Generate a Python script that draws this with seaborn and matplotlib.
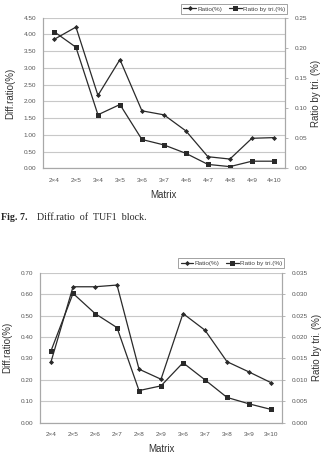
import numpy as np
import pandas as pd
import seaborn as sns
import matplotlib
matplotlib.use('Agg')
import matplotlib.pyplot as plt
import matplotlib.ticker as mtick
from matplotlib.lines import Line2D

# top chart (TUF1 block)
top_matrix = ['2×4', '2×5', '3×4', '3×5', '3×6', '3×7', '4×6', '4×7', '4×8', '4×9', '4×10']
top_ratio = [3.85, 4.22, 2.18, 3.25, 1.72, 1.60, 1.12, 0.35, 0.28, 0.90, 0.92]
top_ratio_tri = [0.227, 0.201, 0.089, 0.106, 0.048, 0.039, 0.025, 0.0067, 0.003, 0.012, 0.012]

# bottom chart
bot_matrix = ['2×4', '2×5', '2×6', '2×7', '2×8', '2×9', '3×6', '3×7', '3×8', '3×9', '3×10']
bot_ratio = [0.285, 0.635, 0.635, 0.643, 0.250, 0.203, 0.510, 0.432, 0.285, 0.237, 0.187]
bot_ratio_tri = [0.0168, 0.0302, 0.0255, 0.0222, 0.0075, 0.0086, 0.0140, 0.0100, 0.0059, 0.0044, 0.0031]

sns.set_style("white")
plt.rcParams['font.family'] = ['Liberation Sans', 'DejaVu Sans']

LINE = '#2a2a2a'
GRID = '#c8c8c8'
TICK_FS = 4.6
LABEL_FS = 7


def draw_panel(fig, rect, matrix, ratio, ratio_tri, lmax, lstep, rmax, rstep, rfmt, legend_y):
    ax = fig.add_axes(rect)
    ax2 = ax.twinx()
    df = pd.DataFrame({'Matrix': matrix, 'Ratio': ratio, 'Tri': ratio_tri})
    sns.lineplot(data=df, x='Matrix', y='Ratio', ax=ax, color=LINE, lw=0.9,
                 marker='D', markersize=2.6, markeredgewidth=0, sort=False)
    sns.lineplot(data=df, x='Matrix', y='Tri', ax=ax2, color=LINE, lw=0.9,
                 marker='s', markersize=3.6, markeredgewidth=0, sort=False)

    n = len(matrix)
    ax.set_xlim(-0.5, n - 0.5)
    ax.set_ylim(0, lmax)
    ax2.set_ylim(0, rmax)
    ax.set_yticks(np.arange(0, lmax + lstep / 2, lstep))
    ax2.set_yticks(np.arange(0, rmax + rstep / 2, rstep))
    ax.yaxis.set_major_formatter(mtick.FormatStrFormatter('%.2f'))
    ax2.yaxis.set_major_formatter(mtick.FormatStrFormatter(rfmt))
    ax.grid(axis='y', color=GRID, lw=0.8)
    ax.set_axisbelow(True)

    ax.set_xticks(range(n))
    ax.set_xticklabels(matrix)
    ax.set_xticks(np.arange(0.5, n - 0.5, 1), minor=True)
    ax.tick_params(axis='x', which='major', length=0, labelsize=TICK_FS, pad=7, colors='#555555')
    ax.tick_params(axis='x', which='minor', length=2, width=0.5, color='#999999', direction='in')
    ax.tick_params(axis='y', length=0, labelsize=TICK_FS, pad=5, colors='#555555')
    ax2.tick_params(axis='y', length=2, width=0.5, color='#999999', labelsize=TICK_FS, pad=5,
                    labelcolor='#555555')

    for a in (ax, ax2):
        for s in a.spines.values():
            s.set_color('#a8a8a8')
            s.set_linewidth(0.8)
        a.spines['top'].set_visible(False)

    ax.set_xlabel('Matrix', fontsize=LABEL_FS, color='#333333', labelpad=5)
    ax.set_ylabel('Diff.ratio(%)', fontsize=LABEL_FS, color='#333333', labelpad=6)
    ax2.set_ylabel('Ratio by tri. (%)', fontsize=LABEL_FS, color='#333333', labelpad=3,
                   rotation=90)

    handles = [Line2D([], [], color=LINE, lw=0.9, marker='D', markersize=2.6, markeredgewidth=0),
               Line2D([], [], color=LINE, lw=0.9, marker='s', markersize=3.6, markeredgewidth=0)]
    leg = ax.legend(handles, ['Ratio(%)', 'Ratio by tri.(%)'], loc='lower right',
                    bbox_to_anchor=(1.01, legend_y), ncol=2, fontsize=4.6, frameon=True,
                    fancybox=False, handlelength=2.0, handletextpad=0.2, columnspacing=1.0,
                    borderpad=0.35, borderaxespad=0)
    leg.get_frame().set_edgecolor('#777777')
    leg.get_frame().set_linewidth(0.6)
    for t in leg.get_texts():
        t.set_color('#444444')
    return ax, ax2


fig = plt.figure(figsize=(3.23, 4.54), dpi=100)

draw_panel(fig, [0.133, 0.629, 0.749, 0.332], top_matrix, top_ratio, top_ratio_tri,
           4.5, 0.5, 0.25, 0.05, '%.2f', 1.025)
draw_panel(fig, [0.124, 0.069, 0.749, 0.330], bot_matrix, bot_ratio, bot_ratio_tri,
           0.7, 0.1, 0.035, 0.005, '%.3f', 1.03)

fig.text(0.003, 0.522, 'Fig. 7.', fontsize=7.2, fontweight='bold',
         family=['Liberation Serif', 'DejaVu Serif'], va='center')
fig.text(0.115, 0.522, 'Diff.ratio  of  TUF1  block.', fontsize=7.2,
         family=['Liberation Serif', 'DejaVu Serif'], va='center')

fig.savefig('out.png', dpi=100, facecolor='white')
